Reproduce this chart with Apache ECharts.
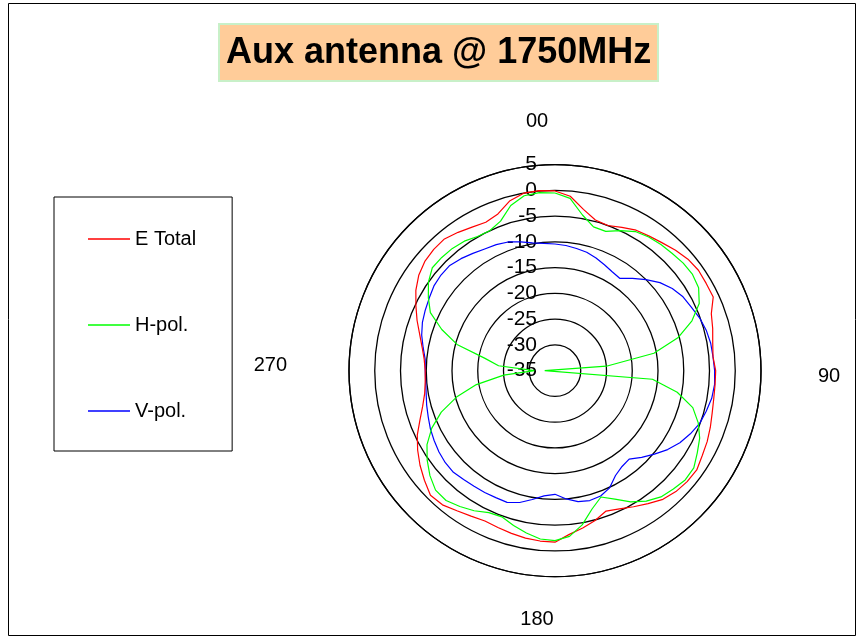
<!DOCTYPE html>
<html>
<head>
<meta charset="utf-8">
<script src="https://cdn.jsdelivr.net/npm/echarts@6/dist/echarts.min.js"></script>
<style>
html,body{margin:0;padding:0;background:#fff;}
#c{width:862px;height:639px;}
</style>
</head>
<body>
<div id="c"></div>
<script>
const angles = [0,5,10,15,20,25,30,35,40,45,50,55,60,65,70,75,80,85,90,95,100,105,110,115,120,125,130,135,140,145,150,155,160,165,170,175,180,185,190,195,200,205,210,215,220,225,230,235,240,245,250,255,260,265,270,275,280,285,290,295,300,305,310,315,320,325,330,335,340,345,350,355];
const eTotal = [-0.1,-1.0,-3.2,-4.7,-5.0,-4.3,-3.5,-3.1,-2.6,-1.9,-1.3,-1.0,-1.1,-1.1,-2.7,-3.3,-3.9,-4.2,-3.8,-3.8,-3.7,-3.4,-2.9,-2.4,-2.0,-1.4,-1.5,-1.8,-2.4,-3.5,-4.5,-5.4,-6.0,-4.9,-4.0,-3.1,-1.7,-1.8,-2.0,-2.3,-2.6,-2.8,-2.4,-1.8,-1.0,-0.8,-1.9,-3.0,-4.2,-5.5,-7.1,-8.4,-9.3,-9.7,-9.8,-9.5,-8.8,-7.8,-6.5,-5.2,-3.8,-2.7,-2.0,-1.7,-1.6,-2.2,-2.8,-3.2,-2.6,-0.9,0.0,0.1];
const hPol = [-0.5,-1.4,-4.3,-6.1,-6.2,-5.0,-3.8,-3.3,-3.0,-2.8,-2.5,-2.4,-2.8,-4.1,-6.7,-10.3,-15.5,-25.0,-37.0,-16.0,-10.9,-7.3,-5.4,-4.0,-3.1,-2.1,-2.0,-2.5,-3.0,-4.1,-5.6,-7.5,-8.9,-7.2,-4.6,-2.7,-2.0,-2.2,-3.0,-3.9,-4.8,-4.6,-3.6,-2.8,-2.1,-2.2,-3.3,-4.7,-6.3,-8.6,-11.5,-15.2,-19.5,-25.0,-31.0,-24.0,-21.2,-15.3,-11.6,-8.3,-6.6,-5.0,-3.9,-3.9,-4.0,-4.3,-4.9,-5.0,-4.1,-1.8,-0.5,-0.3];
const vPol = [-10.4,-10.6,-10.9,-11.2,-11.7,-12.3,-12.8,-13.1,-11.6,-10.0,-8.4,-7.2,-6.3,-5.8,-5.1,-4.6,-4.3,-4.2,-4.0,-3.9,-4.1,-4.6,-5.1,-6.0,-7.0,-8.3,-9.8,-11.2,-12.6,-12.3,-11.5,-9.9,-9.1,-8.9,-9.2,-10.0,-11.0,-10.6,-9.6,-8.5,-7.8,-7.8,-7.7,-7.6,-7.4,-7.1,-7.2,-7.5,-7.9,-8.3,-8.8,-9.2,-9.6,-9.8,-9.8,-9.7,-9.0,-8.2,-7.6,-7.2,-6.8,-6.3,-6.1,-6.1,-6.6,-7.2,-7.7,-8.0,-8.4,-9.1,-9.8,-10.2];
const seriesNames = ['E Total','H-pol.','V-pol.'];
const seriesColors = ['#ff0000','#00ff00','#0000ff'];
const angleTicks = [0,90,180,270];
const angleTickLabels = ['00','90','180','270'];
const radiusMin = -35, radiusMax = 5, radiusStep = 5;
const titleText = 'Aux antenna @ 1750MHz';

function closed(vals){
  const d = angles.map((a,i)=>[vals[i], a]);
  d.push([vals[0], 360]);
  return d;
}
const FONT = "'Liberation Sans', Arial, sans-serif";
const chart = echarts.init(document.getElementById('c'));
const richKeys = ['t','r','b','l'];
chart.setOption({
  animation:false,
  backgroundColor:'#fff',
  graphic:[{type:'rect',shape:{x:8.5,y:3.5,width:847,height:632},style:{fill:'none',stroke:'#000',lineWidth:1},z:-1}],
  title:{
    text:titleText,
    left:219, top:24,
    padding:[9,7,8,7],
    backgroundColor:'#ffcc99',
    borderColor:'#c8f0c8', borderWidth:2,
    textStyle:{fontFamily:FONT,fontSize:36,fontWeight:'bold',color:'#000',lineHeight:40}
  },
  legend:{
    orient:'vertical', left:54, top:197,
    padding:[32,36,30,34],
    icon:'rect',
    itemWidth:42, itemHeight:1.5, itemGap:66,
    backgroundColor:'#fff', borderColor:'#000', borderWidth:1, borderRadius:0,
    textStyle:{fontFamily:FONT,fontSize:20,color:'#000',lineHeight:20},
    data:seriesNames
  },
  polar:{center:[555,370.7], radius:206},
  angleAxis:{
    type:'value', min:0, max:360, interval:90, startAngle:90, clockwise:true,
    axisLine:{show:true,lineStyle:{color:'#000',width:1.3}},
    axisTick:{show:false}, splitLine:{show:false},
    axisLabel:{
      show:true, margin:33, fontFamily:FONT, fontSize:20, color:'#000',
      formatter:function(v){
        const i = angleTicks.indexOf(v);
        if(i<0) return '';
        return '{'+richKeys[i]+'|'+angleTickLabels[i]+'}';
      },
      rich:{
        t:{fontFamily:FONT,fontSize:20,color:'#000',padding:[0,36,0,0]},
        b:{fontFamily:FONT,fontSize:20,color:'#000',padding:[0,36,0,0]},
        r:{fontFamily:FONT,fontSize:20,color:'#000',padding:[12,0,0,24]},
        l:{fontFamily:FONT,fontSize:20,color:'#000',padding:[0,29,10,0]}
      }
    }
  },
  radiusAxis:{
    type:'value', min:radiusMin, max:radiusMax, interval:radiusStep,
    axisLine:{show:false}, axisTick:{show:false},
    axisLabel:{show:true, margin:18, fontFamily:FONT, fontSize:21, color:'#000'},
    splitLine:{show:true,lineStyle:{color:'#000',width:1.3}}
  },
  series:[
    {name:seriesNames[0],type:'line',coordinateSystem:'polar',data:closed(eTotal),symbol:'none',lineStyle:{color:seriesColors[0],width:1.2},itemStyle:{color:seriesColors[0]},z:3},
    {name:seriesNames[1],type:'line',coordinateSystem:'polar',data:closed(hPol),symbol:'none',lineStyle:{color:seriesColors[1],width:1.2},itemStyle:{color:seriesColors[1]},z:4},
    {name:seriesNames[2],type:'line',coordinateSystem:'polar',data:closed(vPol),symbol:'none',lineStyle:{color:seriesColors[2],width:1.2},itemStyle:{color:seriesColors[2]},z:2}
  ]
});
</script>
</body>
</html>
